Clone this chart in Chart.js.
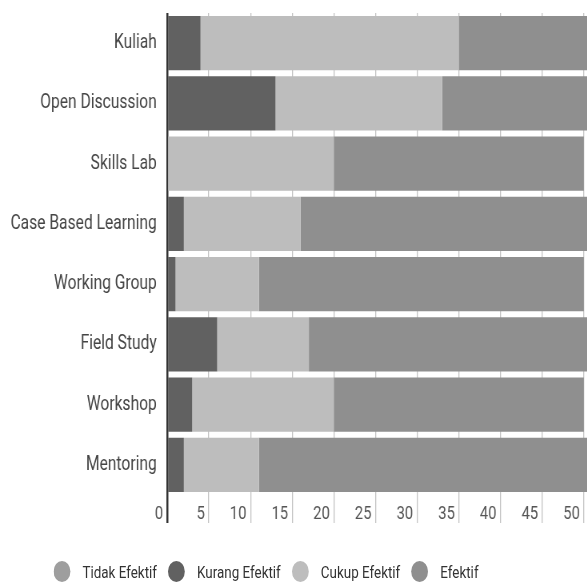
<!DOCTYPE html>
<html>
<head>
<meta charset="utf-8">
<script src="https://cdn.jsdelivr.net/npm/chart.js@4/dist/chart.umd.min.js"></script>
<style>
  html, body { margin: 0; padding: 0; background: #fff; overflow: hidden; }
  /* the reference looks squeezed sideways, so draw wide and scale down */
  #wrap {
    position: relative;
    width: 734px;
    height: 583px;
    transform: scaleX(0.8);
    transform-origin: 0 0;
  }
  #legend {
    position: absolute;
    left: 67px;
    top: 561px;
    display: flex;
    align-items: center;
    font-family: Roboto, sans-serif;
    font-size: 16.8px;
    color: #333;
    white-space: nowrap;
  }
  .item { display: flex; align-items: center; margin-right: 14px; }
  .dot { width: 21px; height: 21px; border-radius: 50%; margin-right: 15px; }
</style>
</head>
<body>
<div id="wrap">
  <canvas id="chart" width="734" height="583"></canvas>
  <div id="legend"></div>
</div>
<script>
const categories = [
  "Kuliah", "Open Discussion", "Skills Lab", "Case Based Learning",
  "Working Group", "Field Study", "Workshop", "Mentoring"
];

const seriesNames = ["Tidak Efektif", "Kurang Efektif", "Cukup Efektif", "Efektif"];
const seriesColors = ["#9e9e9e", "#616161", "#bdbdbd", "#8f8f8f"];

const tidakEfektif  = [0, 0, 0, 0, 0, 0, 0, 0];
const kurangEfektif = [4, 13, 0, 2, 1, 6, 3, 2];
const cukupEfektif  = [31, 20, 20, 14, 10, 11, 17, 9];
const efektif       = [18, 20, 30, 37, 39, 36, 30, 42];

const xStep = 5;
const xMax  = 50.4;   // picture is cropped just past 50

const seriesValues = [tidakEfektif, kurangEfektif, cukupEfektif, efektif];

// ─── Chart ──────────────────────────────────────────────────────────────────

const datasets = seriesNames.map((name, i) => ({
  label: name,
  data: seriesValues[i],
  backgroundColor: seriesColors[i],
  borderWidth: 0,
  barPercentage: 0.9,
  categoryPercentage: 1
}));

new Chart(document.getElementById("chart"), {
  type: "bar",
  data: { labels: categories, datasets },
  options: {
    indexAxis: "y",
    responsive: false,
    animation: false,
    layout: { padding: { top: 13, bottom: 58, left: 0, right: 0 } },
    plugins: {
      legend: { display: false },
      tooltip: { enabled: false }
    },
    scales: {
      x: {
        stacked: true,
        min: 0,
        max: xMax,
        border: { display: false },
        grid: {
          drawOnChartArea: true,
          drawTicks: true,
          tickLength: 28,
          color: ctx => (ctx.tick && ctx.tick.value === 0) ? "#333" : "#c4c4c4",
          lineWidth: ctx => (ctx.tick && ctx.tick.value === 0) ? 2.5 : 1.3
        },
        ticks: {
          stepSize: xStep,
          includeBounds: false,
          autoSkip: false,
          maxRotation: 0,
          align: "end",
          labelOffset: -5,
          padding: -20,
          color: "#555",
          font: { family: "Roboto", size: 18.5 }
        },
        afterFit: scale => {
          scale.height = 30;
          scale.paddingLeft = 0;
          scale.paddingRight = 0;
        }
      },
      y: {
        stacked: true,
        border: { display: false },
        grid: { display: false, drawTicks: false },
        ticks: {
          padding: 13,
          color: "#444",
          font: { family: "Roboto", size: 19.5 }
        },
        afterFit: scale => {
          scale.width = 209;
          scale.paddingTop = 0;
          scale.paddingBottom = 0;
        }
      }
    }
  }
});

// ─── Legend ─────────────────────────────────────────────────────────────────

const legendEl = document.getElementById("legend");
legendEl.innerHTML = seriesNames.map((name, i) => `
  <div class="item">
    <span class="dot" style="background:${seriesColors[i]}"></span>
    <span>${name}</span>
  </div>
`).join("");
</script>
</body>
</html>
